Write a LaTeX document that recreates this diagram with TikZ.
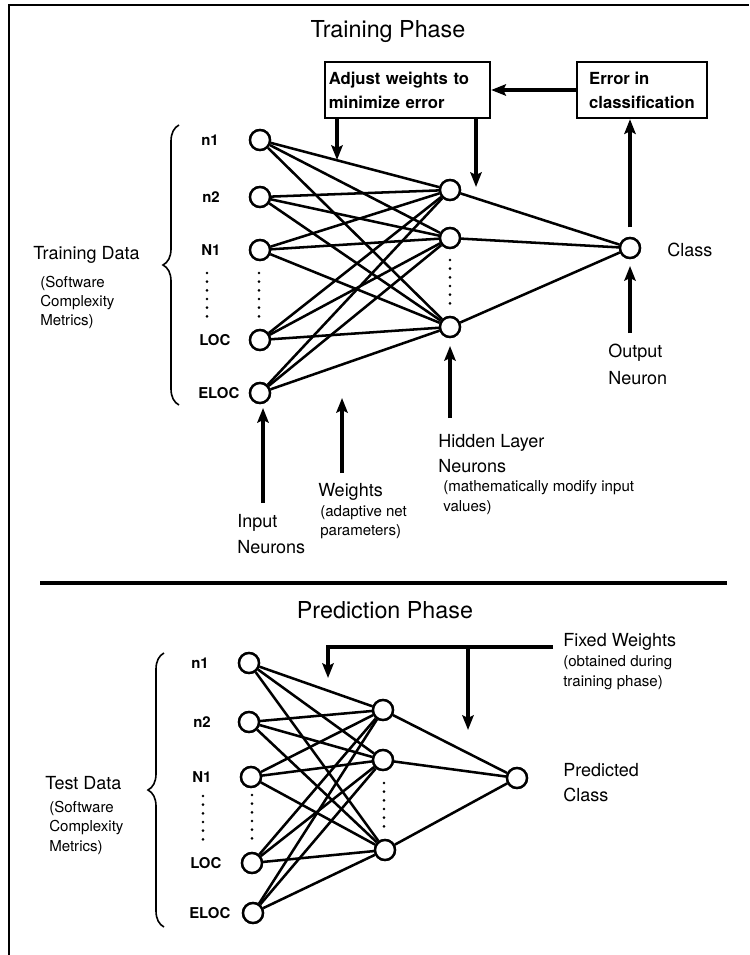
\documentclass[tikz,border=0pt]{standalone}
\usepackage{fontspec}
\setmainfont{TeX Gyre Heros}
\usetikzlibrary{arrows.meta,decorations.pathreplacing}
\begin{document}
\begin{tikzpicture}[x=0.75pt,y=-0.75pt,
  neuron/.style={circle,draw,line width=1.8pt,minimum size=15pt,inner sep=0pt,fill=white},
  link/.style={line width=1.9pt},
  bigarrow/.style={line width=2.5pt,-{Stealth[length=11pt,width=8.5pt,inset=2pt]}},
  lbl/.style={font=\fontsize{13.5}{15}\selectfont,anchor=west,inner sep=0pt},
  small/.style={font=\fontsize{11.3}{13}\selectfont,anchor=west,inner sep=0pt},
  nlab/.style={font=\fontsize{11.2}{12}\bfseries\selectfont,anchor=west,inner sep=0pt},
  ttl/.style={font=\fontsize{17.5}{20}\selectfont,inner sep=0pt},
  boxn/.style={draw,line width=1.8pt,font=\fontsize{12.5}{18}\bfseries\selectfont,align=left,inner sep=0pt},
  dots/.style={line width=2.2pt,dash pattern=on 0pt off 6.5pt,line cap=round},
  brc/.style={line width=1.2pt,decorate,decoration={brace,amplitude=12pt}}
]
\useasboundingbox (0,0) rectangle (749,955);
% frame
\draw[line width=2.2pt] (9,955) -- (9,5) -- (749,5);
% separator
\draw[line width=2.8pt] (40,583) -- (727,583);

%%%%% TRAINING PHASE %%%%%
\node[ttl] (t1) at (388,32) {Training Phase};
\node[boxn,minimum width=123.75pt,minimum height=42pt,text width=118pt] (adj) at (407.5,90) {Adjust weights to\\minimize error};
\node[boxn,minimum width=97.5pt,minimum height=42pt] (err) at (642,90) {Error in\\classification};

% input neurons
\node[neuron] (i1) at (260,140) {};
\node[neuron] (i2) at (260,197) {};
\node[neuron] (i3) at (260,250) {};
\node[neuron] (i4) at (260,340) {};
\node[neuron] (i5) at (260,393) {};
\node[nlab] (li1) at (201,140) {n1};
\node[nlab] (li2) at (202,197) {n2};
\node[nlab] (li3) at (201,250) {N1};
\node[nlab] (li4) at (199,340) {LOC};
\node[nlab] (li5) at (198,393) {ELOC};
\coordinate (dA1) at (207,273); \coordinate (dA2) at (207,318);
\coordinate (dB1) at (259,273); \coordinate (dB2) at (259,318);
\draw[dots] (dA1) -- (dA2);
\draw[dots] (dB1) -- (dB2);

% hidden
\node[neuron] (h1) at (450,190) {};
\node[neuron] (h2) at (450,238) {};
\node[neuron] (h3) at (450,327) {};
\coordinate (dC1) at (450,260); \coordinate (dC2) at (450,308);
\draw[dots] (dC1) -- (dC2);
% output
\node[neuron] (o) at (630,248) {};
\node[lbl] (cls) at (667,250) {Class};

\foreach \i in {1,...,5}{\foreach \h in {1,2,3}{\draw[link] (i\i) -- (h\h);}}
\foreach \h in {1,2,3}{\draw[link] (h\h) -- (o);}
\foreach \i in {1,...,5}{\node[neuron] at (i\i) {};}
\foreach \h in {1,2,3}{\node[neuron] at (h\h) {};}
\node[neuron] at (o) {};

% feedback arrows
\draw[bigarrow] (err.west) -- (adj.east);
\coordinate (a1t) at (337,160);
\coordinate (a2t) at (476,187);
\draw[bigarrow] (adj.south -| a1t) -- (a1t);
\draw[bigarrow] (adj.south -| a2t) -- (a2t);
\draw[bigarrow,shorten <=7pt] (o.north) -- (o.north |- err.south);

% bottom labels
\coordinate (oa0) at (630,333); \coordinate (oa1) at (630,266);
\draw[bigarrow] (oa0) -- (oa1);
\node[lbl] (out1) at (608,353) {Output};
\node[lbl] (out2) at (608,378) {Neuron};

\coordinate (ha0) at (450,418); \coordinate (ha1) at (450,346);
\draw[bigarrow] (ha0) -- (ha1);
\node[lbl] (hid1) at (438,443) {Hidden Layer};
\node[lbl] (hid2) at (438,466) {Neurons};
\node[small] (hid3) at (443,488) {(mathematically modify input};
\node[small] (hid4) at (443,508) {values)};

\coordinate (wa0) at (342,473); \coordinate (wa1) at (342,398);
\draw[bigarrow] (wa0) -- (wa1);
\node[lbl] (w1) at (318,492) {Weights};
\node[small] (w2) at (320,513) {(adaptive net};
\node[small] (w3) at (320,532) {parameters)};

\coordinate (ia0) at (263,503); \coordinate (ia1) at (263,408);
\draw[bigarrow] (ia0) -- (ia1);
\node[lbl] (in1) at (237,523) {Input};
\node[lbl] (in2) at (237,547) {Neurons};

% brace and data label
\coordinate (b1a) at (179,405); \coordinate (b1b) at (179,125);
\draw[brc] (b1a) -- (b1b);
\node[lbl] (td1) at (33,255) {Training Data};
\node[small] (td2) at (40,283) {(Software};
\node[small] (td3) at (40,303) {Complexity};
\node[small] (td4) at (40,322) {Metrics)};

%%%%% PREDICTION PHASE %%%%%
\node[ttl] (t2) at (385,610) {Prediction Phase};

\node[neuron] (p1) at (249,663) {};
\node[neuron] (p2) at (249,722) {};
\node[neuron] (p3) at (251,777) {};
\node[neuron] (p4) at (252,863) {};
\node[neuron] (p5) at (253,913) {};
\node[nlab] (lp1) at (191,663) {n1};
\node[nlab] (lp2) at (193,722) {n2};
\node[nlab] (lp3) at (192,777) {N1};
\node[nlab] (lp4) at (190,863) {LOC};
\node[nlab] (lp5) at (189,913) {ELOC};
\coordinate (dD1) at (203,796); \coordinate (dD2) at (203,842);
\coordinate (dE1) at (252,795); \coordinate (dE2) at (252,840);
\draw[dots] (dD1) -- (dD2);
\draw[dots] (dE1) -- (dE2);

\node[neuron] (q1) at (383,710) {};
\node[neuron] (q2) at (383,760) {};
\node[neuron] (q3) at (385,850) {};
\coordinate (dF1) at (384,783); \coordinate (dF2) at (384,830);
\draw[dots] (dF1) -- (dF2);
\node[neuron] (r) at (517,778) {};

\foreach \i in {1,...,5}{\foreach \h in {1,2,3}{\draw[link] (p\i) -- (q\h);}}
\foreach \h in {1,2,3}{\draw[link] (q\h) -- (r);}
\foreach \i in {1,...,5}{\node[neuron] at (p\i) {};}
\foreach \h in {1,2,3}{\node[neuron] at (q\h) {};}
\node[neuron] at (r) {};

\node[lbl] (pc1) at (563,770) {Predicted};
\node[lbl] (pc2) at (563,795) {Class};

\coordinate (fwR) at (553,647);
\coordinate (fwL) at (328,647);
\coordinate (fwLt) at (328,678);
\coordinate (fwM) at (468,647);
\coordinate (fwMt) at (468,730);
\draw[bigarrow] (fwR) -- (fwL) -- (fwLt);
\draw[bigarrow] (fwM) -- (fwMt);
\node[lbl] (fw1) at (563,642) {Fixed Weights};
\node[small] (fw2) at (563,663) {(obtained during};
\node[small] (fw3) at (563,683) {training phase)};

\coordinate (b2a) at (164,927); \coordinate (b2b) at (164,653);
\draw[brc] (b2a) -- (b2b);
\node[lbl] (xd1) at (45,783) {Test Data};
\node[small] (xd2) at (49,808) {(Software};
\node[small] (xd3) at (49,828) {Complexity};
\node[small] (xd4) at (49,848) {Metrics)};
\end{tikzpicture}
\end{document}
